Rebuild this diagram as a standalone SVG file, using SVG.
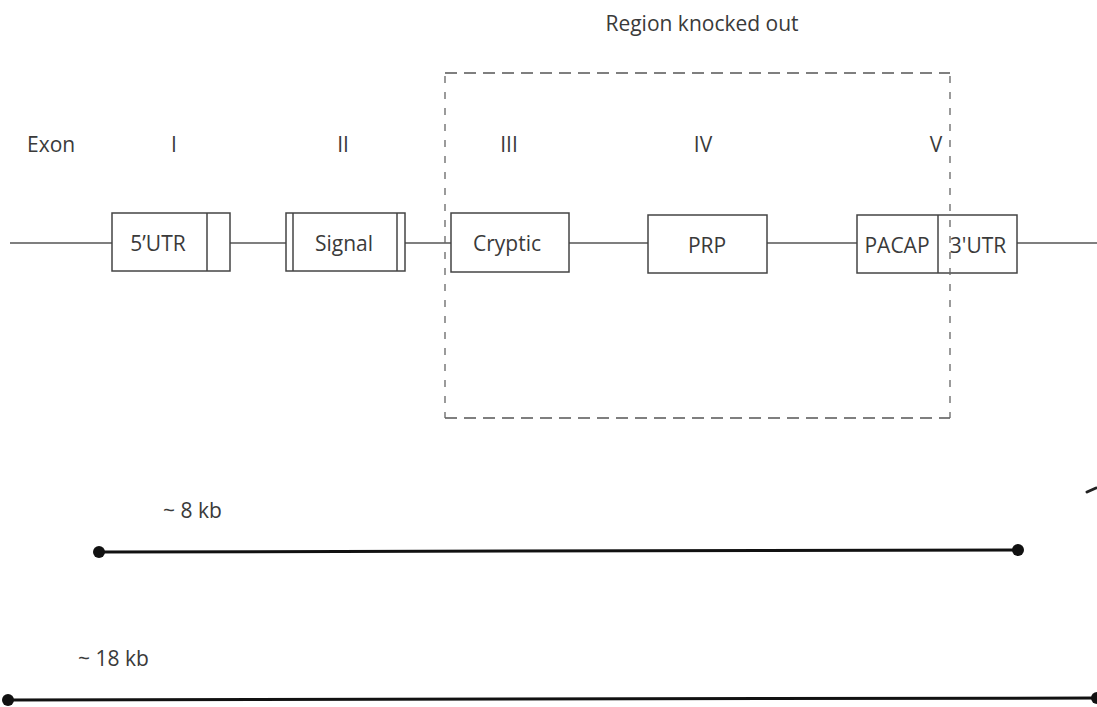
<svg xmlns="http://www.w3.org/2000/svg" width="1097" height="707" viewBox="0 0 1097 707">
<style>
text{font-family:"Open Sans","Liberation Sans",sans-serif;font-size:21px;fill:#3a3a3a}
.box{fill:#fff;stroke:#444;stroke-width:1.5}
.ln{stroke:#555;stroke-width:1.5;fill:none}
.dv{stroke:#444;stroke-width:1.5}
.dash{stroke:#555;stroke-width:1.5;fill:none;stroke-dasharray:12,7}
.vdash{stroke:#666;stroke-width:1.3;fill:none;stroke-dasharray:7,9}
.scale{stroke:#111;stroke-width:3}
.dot{fill:#111}
</style>
<rect width="1097" height="707" fill="#fff"/>
<g id="connectors">
<line class="ln" x1="10" y1="243" x2="112" y2="243"/>
<line class="ln" x1="230" y1="243" x2="286" y2="243"/>
<line class="ln" x1="405" y1="243" x2="451" y2="243"/>
<line class="ln" x1="569" y1="243" x2="648" y2="243"/>
<line class="ln" x1="767" y1="243" x2="857" y2="243"/>
<line class="ln" x1="1017" y1="243" x2="1097" y2="243"/>
</g>
<g id="labels">
<text x="27" y="152">Exon</text>
<text x="174" y="152" text-anchor="middle">I</text>
<text x="343" y="152" text-anchor="middle">II</text>
<text x="509" y="152" text-anchor="middle">III</text>
<text x="703" y="152" text-anchor="middle">IV</text>
<text x="936" y="152" text-anchor="middle">V</text>
</g>
<g id="exon1">
<rect class="box" x="112" y="213" width="118" height="58"/>
<line class="dv" x1="207" y1="213" x2="207" y2="271"/>
<text x="158" y="251" text-anchor="middle">5’UTR</text>
</g>
<g id="exon2">
<rect class="box" x="286" y="213" width="119" height="58"/>
<line class="dv" x1="293" y1="213" x2="293" y2="271"/>
<line class="dv" x1="397" y1="213" x2="397" y2="271"/>
<text x="344" y="251" text-anchor="middle">Signal</text>
</g>
<g id="exon3">
<rect class="box" x="451" y="213" width="118" height="59"/>
<text x="507" y="251" text-anchor="middle">Cryptic</text>
</g>
<g id="exon4">
<rect class="box" x="648" y="215" width="119" height="58"/>
<text x="707" y="253" text-anchor="middle">PRP</text>
</g>
<g id="exon5">
<rect class="box" x="857" y="215" width="160" height="58"/>
<line class="dv" x1="938" y1="215" x2="938" y2="273"/>
<text x="897" y="253" text-anchor="middle">PACAP</text>
<text x="978" y="253" text-anchor="middle">3'UTR</text>
</g>
<g id="knockout-region">
<path class="dash" d="M445 73 H950"/>
<path class="dash" d="M445 418 H950"/>
<path class="vdash" d="M445 76 V418"/>
<path class="vdash" d="M950 76 V418"/>
<text x="702" y="31" text-anchor="middle">Region knocked out</text>
</g>
<g id="scale-8kb">
<line class="scale" x1="99" y1="552" x2="1018" y2="550"/>
<circle class="dot" cx="99" cy="552" r="6"/>
<circle class="dot" cx="1018" cy="550" r="6"/>
<text x="163" y="518">~ 8 kb</text>
</g>
<g id="scale-18kb">
<line class="scale" x1="8" y1="700" x2="1097" y2="698"/>
<circle class="dot" cx="8" cy="700" r="6"/>
<circle class="dot" cx="1097" cy="698" r="6"/>
<text x="78" y="666">~ 18 kb</text>
</g>
<path d="M1087 492 L1096 488" stroke="#222" stroke-width="3" stroke-linecap="round"/>
</svg>
